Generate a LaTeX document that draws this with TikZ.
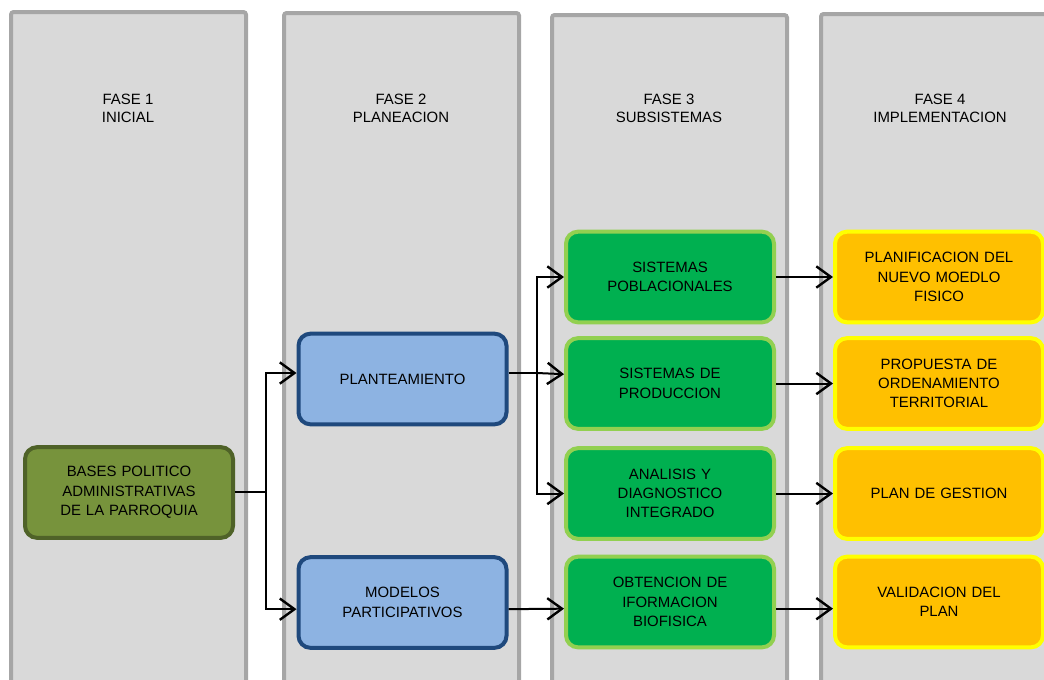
\documentclass[tikz,border=0pt]{standalone}
\usepackage{fontspec}
\setmainfont{Liberation Sans}
\usetikzlibrary{arrows.meta}
\definecolor{phasefill}{HTML}{D9D9D9}
\definecolor{phaseline}{HTML}{A6A6A6}
\definecolor{olivefill}{HTML}{77933C}
\definecolor{oliveline}{HTML}{4F6228}
\definecolor{bluefill}{HTML}{8DB3E2}
\definecolor{blueline}{HTML}{1F497D}
\definecolor{greenfill}{HTML}{00B050}
\definecolor{greenline}{HTML}{92D050}
\definecolor{orangefill}{HTML}{FFC000}
\definecolor{orangeline}{HTML}{FFFF00}
\begin{document}
\begin{tikzpicture}[x=0.75pt,y=-0.75pt]

\tikzset{phase/.style={draw=phaseline,fill=phasefill,line width=3pt,rounded corners=2pt}}
\tikzset{title/.style={align=center,font=\fontsize{11.2}{13.5}\selectfont}}
\tikzset{box/.style={rectangle,rounded corners=9pt,line width=3pt,minimum width=156pt,minimum height=68pt,
  text width=145pt,align=center,inner sep=0pt,font=\fontsize{11.2}{14.5}\selectfont}}
\tikzset{olive/.style={box,draw=oliveline,fill=olivefill}}
\tikzset{blue/.style={box,draw=blueline,fill=bluefill}}
\tikzset{green/.style={box,draw=greenline,fill=greenfill}}
\tikzset{orange/.style={box,draw=orangeline,fill=orangefill}}
\tikzset{arrow/.style={draw,line width=1.5pt,-{Straight Barb[length=11pt,width=16pt,line width=1.8pt]}}}
\tikzset{line/.style={draw,line width=1.5pt}}

\useasboundingbox (0,0) rectangle (1044,679);
\begin{scope}
\clip (0,0) rectangle (1044,679);
\draw[phase] (11,12) rectangle (246,700);
\draw[phase] (284,13) rectangle (519,700);
\draw[phase] (552,15) rectangle (787,700);
\draw[phase] (821,14) rectangle (1060,700);
\end{scope}

\node[title] (h1) at (128,108) {FASE 1\\INICIAL};
\node[title] (h2) at (401,108) {FASE 2\\PLANEACION};
\node[title] (h3) at (669,108) {FASE 3\\SUBSISTEMAS};
\node[title] (h4) at (940,108) {FASE 4\\IMPLEMENTACION};

\node[olive] (bases) at (129,492.5) {BASES POLITICO\\ADMINISTRATIVAS\\DE LA PARROQUIA};

\node[blue] (plant) at (402.5,379) {PLANTEAMIENTO};
\node[blue] (model) at (402.5,602.5) {MODELOS\\PARTICIPATIVOS};

\node[green] (spob) at (670,277) {SISTEMAS\\POBLACIONALES};
\node[green] (sprod) at (670,383.5) {SISTEMAS DE\\PRODUCCION};
\node[green] (adi) at (670,493.5) {ANALISIS Y\\DIAGNOSTICO\\INTEGRADO};
\node[green] (obt) at (670,602) {OBTENCION DE\\IFORMACION\\BIOFISICA};

\node[orange] (pnmf) at (939,277) {PLANIFICACION DEL\\NUEVO MOEDLO\\FISICO};
\node[orange] (prop) at (939,383.5) {PROPUESTA DE\\ORDENAMIENTO\\TERRITORIAL};
\node[orange] (gest) at (939,493.5) {PLAN DE GESTION};
\node[orange] (valid) at (939,602) {VALIDACION DEL\\PLAN};

% fase 1 -> fase 2
\coordinate (j1) at (266,492);
\path[line] (bases.east |- j1) -- (j1);
\path[arrow] (j1) |- ([yshift=4.5pt]plant.west);
\path[arrow] (j1) |- ([yshift=-5pt]model.west);

% fase 2 -> fase 3
\coordinate (j2) at (537,373);
\path[line] ([yshift=4.5pt]plant.east) -- (j2);
\path[arrow] (j2) |- (spob.west);
\path[arrow] (j2) -- ([yshift=7pt]sprod.west);
\path[arrow] (j2) |- (adi.west);
\path[arrow] ([yshift=-5pt]model.east) -- ([yshift=-5pt]obt.west);

% fase 3 -> fase 4
\path[arrow] (spob.east) -- (pnmf.west);
\path[arrow] (sprod.east) -- (prop.west);
\path[arrow] (adi.east) -- (gest.west);
\path[arrow] ([yshift=-5pt]obt.east) -- ([yshift=-5pt]valid.west);

\end{tikzpicture}
\end{document}
